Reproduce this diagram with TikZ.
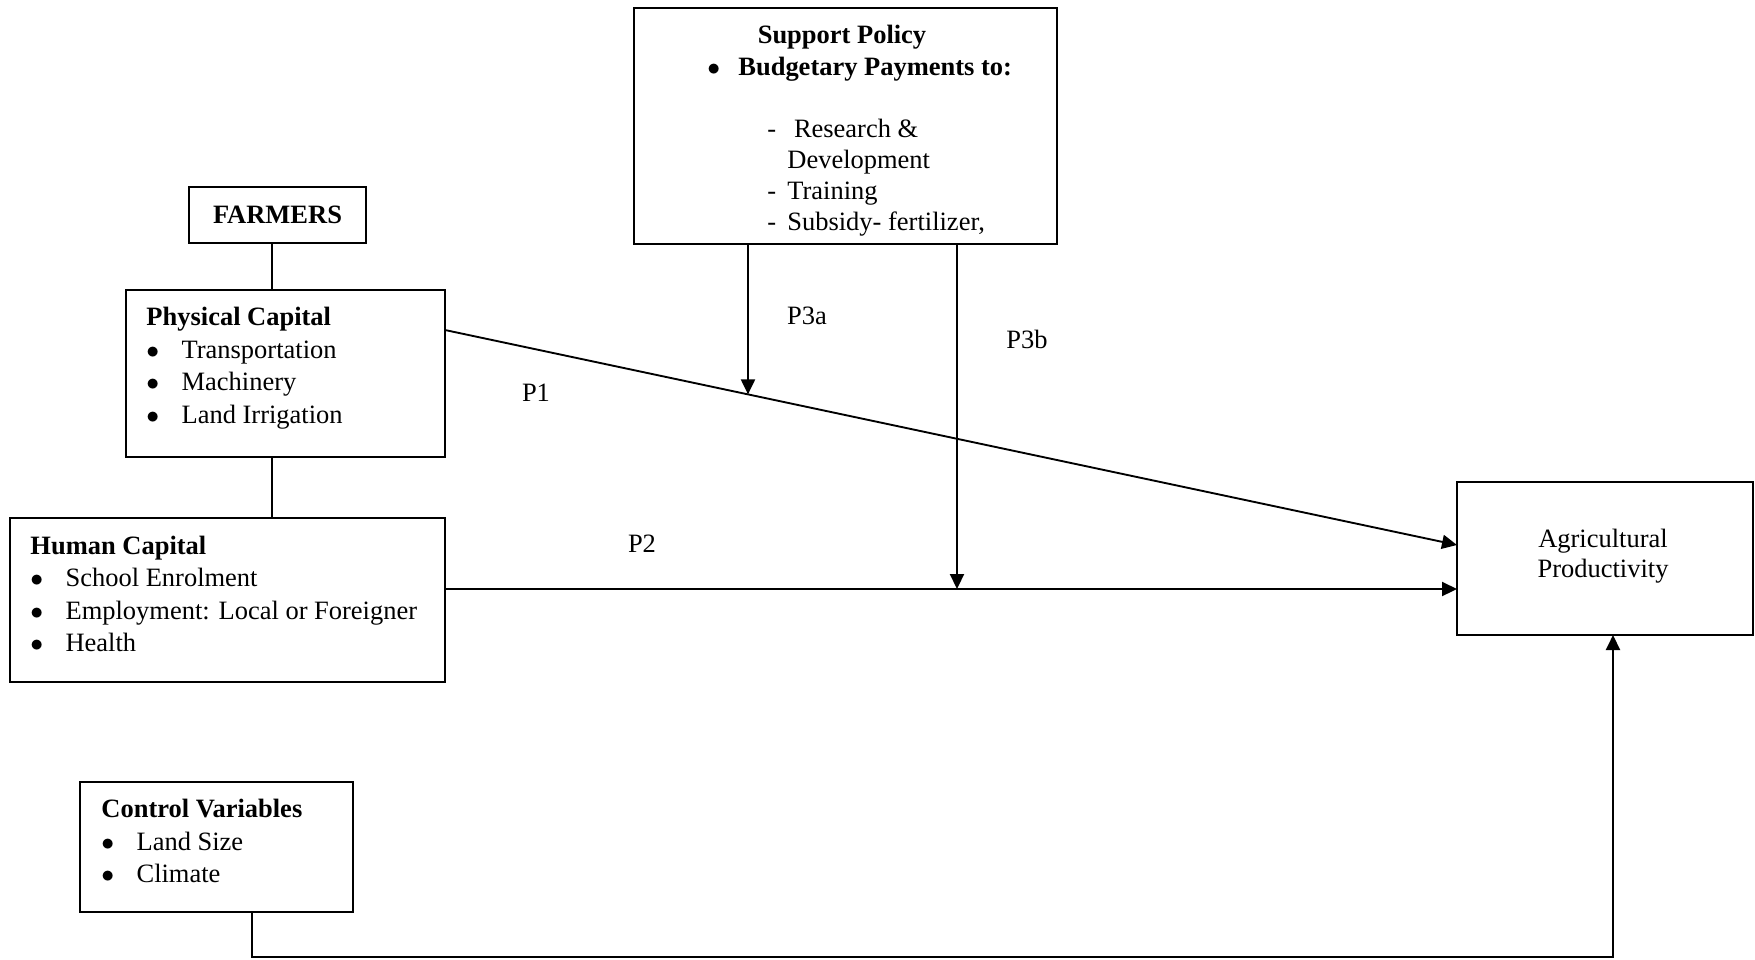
\documentclass[tikz,border=0pt]{standalone}
\usepackage{fontspec}
\setmainfont{Liberation Serif}
\usetikzlibrary{arrows.meta}
\newcommand{\bitem}[1]{\makebox[15pt][l]{$\bullet$}#1}
\newcommand{\ditem}[1]{\makebox[8.5pt][l]{-}#1}

\begin{document}
\begin{tikzpicture}[
	x=0.015cm, y=-0.015cm,
	line join=miter,
	>={Triangle[length=6.4pt,width=6pt]},
	box/.style={draw, line width=1pt, inner sep=0pt, outer sep=0pt, anchor=north west},
	txt/.style={inner sep=0pt, font=\fontsize{11.3}{13.9}\selectfont, align=left},
	link/.style={line width=0.8pt},
	arr/.style={line width=0.8pt, ->}
	]
	\useasboundingbox (0,0) rectangle (1755,959);
	
	% Boxes
	\node[box, minimum width=6.345cm, minimum height=3.54cm] (sup) at (634,8) {};
	\node[box, minimum width=2.655cm, minimum height=0.84cm] (farm) at (189,187) {};
	\node[box, minimum width=4.785cm, minimum height=2.505cm] (phys) at (126,290) {};
	\node[box, minimum width=6.525cm, minimum height=2.46cm] (hum) at (10,518) {};
	\node[box, minimum width=4.44cm, minimum height=2.295cm] (agri) at (1457,482) {};
	\node[box, minimum width=4.095cm, minimum height=1.95cm] (ctrl) at (80,782) {};
	
	% Box texts
	\node[txt, font=\fontsize{11.3}{13.9}\selectfont\bfseries] (supHead) at (842,37) {Support Policy};
	\node[txt, anchor=west, font=\fontsize{11.3}{13.9}\selectfont\bfseries] (supBul) at (707,69)
	{\makebox[13.2pt][l]{$\bullet$}Budgetary Payments to:};
	\node[txt, anchor=west, font=\fontsize{11.3}{13.2}\selectfont] (supList) at (767,178)
	{\ditem{\ Research \&}\\ \hspace*{8.5pt}Development\\ \ditem{Training}\\ \ditem{Subsidy- fertilizer,}};
	
	\node[txt, font=\fontsize{11.3}{13.9}\selectfont\bfseries] (farmT) at (farm) {FARMERS};
	
	\node[txt, anchor=west] (physT) at (146,368)
	{\textbf{Physical Capital}\\ \bitem{Transportation}\\ \bitem{Machinery}\\ \bitem{Land Irrigation}};
	
	\node[txt, anchor=west] (humT) at (30,594)
	{\textbf{Human Capital}\\ \bitem{School Enrolment}\\ \bitem{Employment: Local or Foreigner}\\ \bitem{Health}};
	
	\node[txt, align=center, font=\fontsize{11.3}{12.8}\selectfont] (agriT) at (1603,556)
	{Agricultural\\ Productivity};
	
	\node[txt, anchor=west] (ctrlT) at (101,841)
	{\textbf{Control Variables}\\ \bitem{Land Size}\\ \bitem{Climate}};
	
	% Helper points
	\coordinate (stem) at (272,0);
	\coordinate (p1s) at (phys.north east |- 0,330);
	\coordinate (p1e) at (agri.north west |- 0,545);
	\coordinate (p2s) at (hum.north east |- 0,589);
	\coordinate (p2e) at (agri.north west |- 0,589);
	\coordinate (p3a) at (748,0);
	\coordinate (p3b) at (957,0);
	\coordinate (ctrlx) at (252,0);
	\coordinate (bot) at (1613,957);
	\path (p1s) -- (p1e) coordinate[pos=0.2994] (p3aEnd);
	
	% Farmers tree
	\draw[link] (farm.south -| stem) -- (phys.north -| stem);
	\draw[link] (phys.south -| stem) -- (hum.north -| stem);
	
	% Paths
	\draw[arr] (p1s) -- (p1e);
	\draw[arr] (p2s) -- (p2e);
	\draw[arr] (sup.south -| p3a) -- (p3aEnd);
	\draw[arr] (sup.south -| p3b) -- (p3b |- p2s);
	\draw[arr] (ctrl.south -| ctrlx) |- (bot) -- (agri.south -| bot);
	
	% Path labels
	\node[txt] (lP1) at (536,393) {P1};
	\node[txt] (lP2) at (642,544) {P2};
	\node[txt] (lP3a) at (807,316) {P3a};
	\node[txt] (lP3b) at (1027,339) {P3b};
	
\end{tikzpicture}
\end{document}
